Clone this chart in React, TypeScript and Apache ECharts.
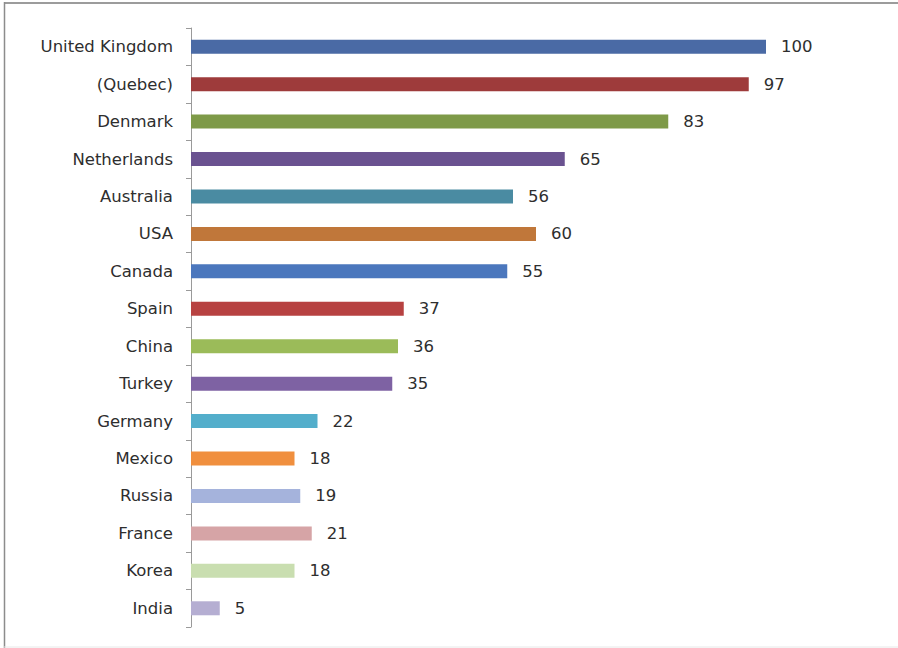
import React, { useEffect, useRef } from "react";
import * as echarts from "echarts";

const categories = [
  "United Kingdom", "(Quebec)", "Denmark", "Netherlands", "Australia", "USA",
  "Canada", "Spain", "China", "Turkey", "Germany", "Mexico", "Russia",
  "France", "Korea", "India",
];
const values = [100, 97, 83, 65, 56, 60, 55, 37, 36, 35, 22, 18, 19, 21, 18, 5];
const barColors = [
  "#4a6aa5", "#9e3b3b", "#7e9a48", "#6a5290", "#4a8ba2", "#c0773a",
  "#4b77bd", "#b74241", "#9bbb59", "#7e62a3", "#53aecb", "#f08f3e",
  "#a5b3dc", "#d6a4a6", "#c9deb0", "#b5aed2",
];

export default function App() {
  const ref = useRef<HTMLDivElement>(null);
  useEffect(() => {
    document.body.style.margin = "0";
    const chart = echarts.init(ref.current!, null, { renderer: "svg" });
    const font = "DejaVu Sans";
    chart.setOption({
      animation: false,
      backgroundColor: "#ffffff",
      grid: { left: 191, right: 132, top: 28, bottom: 21, containLabel: false },
      xAxis: {
        type: "value",
        min: 0,
        max: 100,
        show: false,
      },
      yAxis: {
        type: "category",
        inverse: true,
        data: categories,
        axisLine: { show: true, lineStyle: { color: "#9a9a9a", width: 1 } },
        axisTick: { show: true, length: 5, lineStyle: { color: "#9a9a9a" } },
        axisLabel: {
          margin: 18,
          fontFamily: font,
          fontSize: 16.5,
          color: "#2e2e2e",
        },
        splitLine: { show: false },
      },
      series: [
        {
          type: "bar",
          barWidth: 14,
          data: values.map((v, i) => ({
            value: v,
            itemStyle: { color: barColors[i] },
          })),
          label: {
            show: true,
            position: "right",
            distance: 15,
            fontFamily: font,
            fontSize: 16.5,
            color: "#2e2e2e",
          },
        },
      ],
      graphic: [
        {
          type: "line",
          shape: { x1: 4, y1: 3, x2: 898, y2: 3 },
          style: { stroke: "#9c9c9c", lineWidth: 2 },
          silent: true,
        },
        {
          type: "line",
          shape: { x1: 4.5, y1: 2, x2: 4.5, y2: 648 },
          style: { stroke: "#8c8c8c", lineWidth: 1.5 },
          silent: true,
        },
        {
          type: "line",
          shape: { x1: 4, y1: 647, x2: 898, y2: 647 },
          style: { stroke: "#e8e8e8", lineWidth: 1 },
          silent: true,
        },
      ],
    });
    return () => chart.dispose();
  }, []);
  return (
    <div
      ref={ref}
      style={{ position: "fixed", left: 0, top: 0, width: 898, height: 648 }}
    />
  );
}
